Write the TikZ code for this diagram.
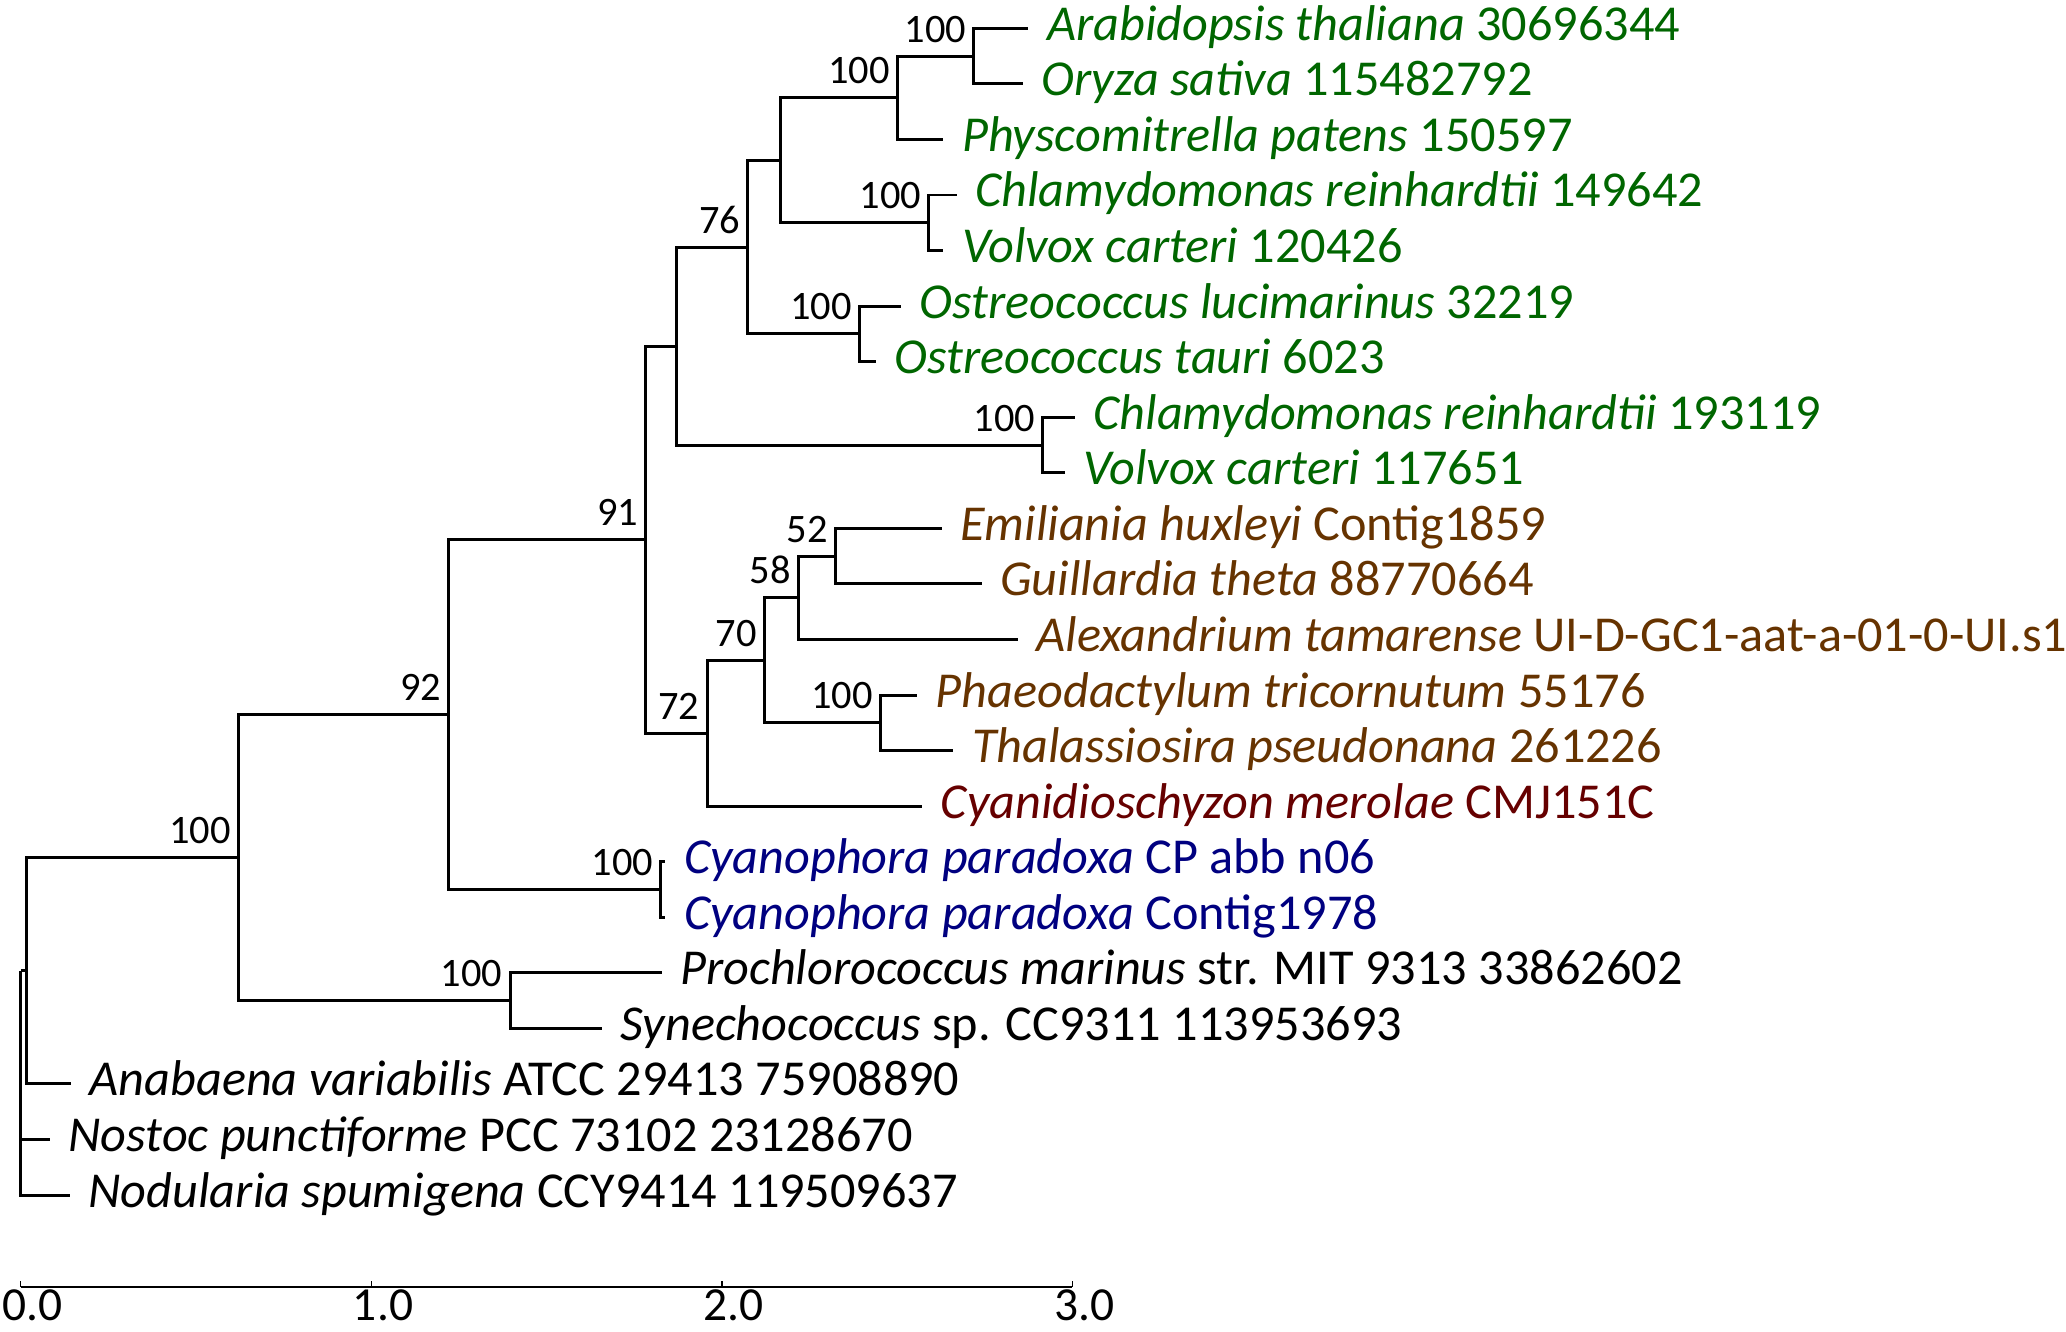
\documentclass[tikz,border=0pt]{standalone}
\usepackage{fontspec}
\setmainfont{Carlito}
\usetikzlibrary{positioning}
\definecolor{plantgreen}{HTML}{006600}
\definecolor{chromobrown}{HTML}{663300}
\definecolor{redalga}{HTML}{660000}
\definecolor{glaucoblue}{HTML}{000080}

\begin{document}
\begin{tikzpicture}[
  x=3.505cm, y=0.5556cm,
  branch/.style={line width=0.85pt, black},
  taxon/.style={inner sep=0pt, text height=0.34cm, text depth=0.10cm,
    font=\fontsize{14.3}{16}\selectfont},
  boot/.style={inner sep=0pt, font=\fontsize{11.5}{13}\selectfont},
  scalelbl/.style={inner sep=0pt, anchor=base west,
    font=\fontsize{13.5}{16}\selectfont}
]
\useasboundingbox (-0.0593,-0.4906) rectangle (5.835,-24.447);

% ---- Internal nodes ----
\coordinate (nR)   at (0,-17.963);
\coordinate (nA)   at (0.015,-17.963);
\coordinate (nB)   at (0.621,-15.926);
\coordinate (nPr)  at (1.396,-18.5);
\coordinate (nC)   at (1.221,-13.352);
\coordinate (nCy)  at (1.826,-16.5);
\coordinate (nD)   at (1.783,-10.203);
\coordinate (nE)   at (1.871,-6.719);
\coordinate (nG)   at (2.074,-4.9375);
\coordinate (nH)   at (2.168,-3.375);
\coordinate (nH2)  at (2.501,-2.25);
\coordinate (nAO)  at (2.719,-1.5);
\coordinate (nCV)  at (2.591,-4.5);
\coordinate (nOst) at (2.393,-6.5);
\coordinate (nCh2) at (2.916,-8.5);
\coordinate (nF)   at (1.958,-13.6875);
\coordinate (nF1)  at (2.121,-12.375);
\coordinate (nF2)  at (2.219,-11.25);
\coordinate (nF3)  at (2.324,-10.5);
\coordinate (nPh)  at (2.452,-13.5);

% ---- Tips ----
\coordinate (t1)  at (2.875,-1);
\coordinate (t2)  at (2.858,-2);
\coordinate (t3)  at (2.632,-3);
\coordinate (t4)  at (2.670,-4);
\coordinate (t5)  at (2.632,-5);
\coordinate (t6)  at (2.512,-6);
\coordinate (t7)  at (2.440,-7);
\coordinate (t8)  at (3.007,-8);
\coordinate (t9)  at (2.978,-9);
\coordinate (t10) at (2.628,-10);
\coordinate (t11) at (2.741,-11);
\coordinate (t12) at (2.845,-12);
\coordinate (t13) at (2.557,-13);
\coordinate (t14) at (2.661,-14);
\coordinate (t15) at (2.572,-15);
\coordinate (t16) at (1.839,-16);
\coordinate (t17) at (1.839,-17);
\coordinate (t18) at (1.828,-18);
\coordinate (t19) at (1.658,-19);
\coordinate (t20) at (0.143,-20);
\coordinate (t21) at (0.083,-21);
\coordinate (t22) at (0.140,-22);

% ---- Branches ----
\foreach \p/\c in {nR/nA, nR/t21, nR/t22, nA/nB, nA/t20, nB/nC, nB/nPr,
    nPr/t18, nPr/t19, nC/nD, nC/nCy, nCy/t16, nCy/t17, nD/nE, nD/nF,
    nE/nG, nE/nCh2, nG/nH, nG/nOst, nH/nH2, nH/nCV, nH2/nAO, nH2/t3,
    nAO/t1, nAO/t2, nCV/t4, nCV/t5, nOst/t6, nOst/t7, nCh2/t8, nCh2/t9,
    nF/nF1, nF/t15, nF1/nF2, nF1/nPh, nF2/nF3, nF2/t12, nF3/t10, nF3/t11,
    nPh/t13, nPh/t14}
  \draw[branch] (\p) |- (\c);

% ---- Support values ----
\node[boot, above left=0.13cm and 0.07cm of nAO]  (bAO)  {100};
\node[boot, above left=0.13cm and 0.07cm of nH2]  (bH2)  {100};
\node[boot, above left=0.13cm and 0.07cm of nCV]  (bCV)  {100};
\node[boot, above left=0.13cm and 0.07cm of nOst] (bOst) {100};
\node[boot, above left=0.13cm and 0.07cm of nG]   (bG)   {76};
\node[boot, above left=0.13cm and 0.07cm of nCh2] (bCh2) {100};
\node[boot, above left=0.13cm and 0.07cm of nD]   (bD)   {91};
\node[boot, above left=0.13cm and 0.07cm of nF3]  (bF3)  {52};
\node[boot, above left=0.13cm and 0.07cm of nF2]  (bF2)  {58};
\node[boot, above left=0.13cm and 0.07cm of nF1]  (bF1)  {70};
\node[boot, above left=0.13cm and 0.07cm of nPh]  (bPh)  {100};
\node[boot, above left=0.13cm and 0.07cm of nF]   (bF)   {72};
\node[boot, above left=0.13cm and 0.07cm of nC]   (bC)   {92};
\node[boot, above left=0.13cm and 0.07cm of nCy]  (bCy)  {100};
\node[boot, above left=0.13cm and 0.07cm of nB]   (bB)   {100};
\node[boot, above left=0.13cm and 0.07cm of nPr]  (bPr)  {100};

% ---- Taxon labels ----
\node[taxon, text=plantgreen, right=0.18cm of t1] (l1) {\textit{Arabidopsis thaliana} 30696344};
\node[taxon, text=plantgreen, right=0.18cm of t2] (l2) {\textit{Oryza sativa} 115482792};
\node[taxon, text=plantgreen, right=0.18cm of t3] (l3) {\textit{Physcomitrella patens} 150597};
\node[taxon, text=plantgreen, right=0.18cm of t4] (l4) {\textit{Chlamydomonas reinhardtii} 149642};
\node[taxon, text=plantgreen, right=0.18cm of t5] (l5) {\textit{Volvox carteri} 120426};
\node[taxon, text=plantgreen, right=0.18cm of t6] (l6) {\textit{Ostreococcus lucimarinus} 32219};
\node[taxon, text=plantgreen, right=0.18cm of t7] (l7) {\textit{Ostreococcus tauri} 6023};
\node[taxon, text=plantgreen, right=0.18cm of t8] (l8) {\textit{Chlamydomonas reinhardtii} 193119};
\node[taxon, text=plantgreen, right=0.18cm of t9] (l9) {\textit{Volvox carteri} 117651};
\node[taxon, text=chromobrown, right=0.18cm of t10] (l10) {\textit{Emiliania huxleyi} Contig1859};
\node[taxon, text=chromobrown, right=0.18cm of t11] (l11) {\textit{Guillardia theta} 88770664};
\node[taxon, text=chromobrown, right=0.18cm of t12] (l12) {\textit{Alexandrium tamarense} UI-D-GC1-aat-a-01-0-UI.s1};
\node[taxon, text=chromobrown, right=0.18cm of t13] (l13) {\textit{Phaeodactylum tricornutum} 55176};
\node[taxon, text=chromobrown, right=0.18cm of t14] (l14) {\textit{Thalassiosira pseudonana} 261226};
\node[taxon, text=redalga, right=0.18cm of t15] (l15) {\textit{Cyanidioschyzon merolae} CMJ151C};
\node[taxon, text=glaucoblue, right=0.18cm of t16] (l16) {\textit{Cyanophora paradoxa} CP abb n06};
\node[taxon, text=glaucoblue, right=0.18cm of t17] (l17) {\textit{Cyanophora paradoxa} Contig1978};
\node[taxon, right=0.18cm of t18] (l18) {\textit{Prochlorococcus marinus} str. MIT 9313 33862602};
\node[taxon, right=0.18cm of t19] (l19) {\textit{Synechococcus} sp. CC9311 113953693};
\node[taxon, right=0.18cm of t20] (l20) {\textit{Anabaena variabilis} ATCC 29413 75908890};
\node[taxon, right=0.18cm of t21] (l21) {\textit{Nostoc punctiforme} PCC 73102 23128670};
\node[taxon, right=0.18cm of t22] (l22) {\textit{Nodularia spumigena} CCY9414 119509637};

% ---- Scale ----
\coordinate (s0) at (0,-23.646);
\coordinate (s3) at (3,-23.646);
\draw[line width=0.55pt] (s0) -- (s3);
\foreach \i in {0,...,3} {
  \draw[line width=0.4pt] (\i,-23.646) -- (\i,-23.538);
  \node[scalelbl, xshift=-0.19cm] (k\i) at (\i,-24.262) {\i.0};
}

\end{tikzpicture}
\end{document}
